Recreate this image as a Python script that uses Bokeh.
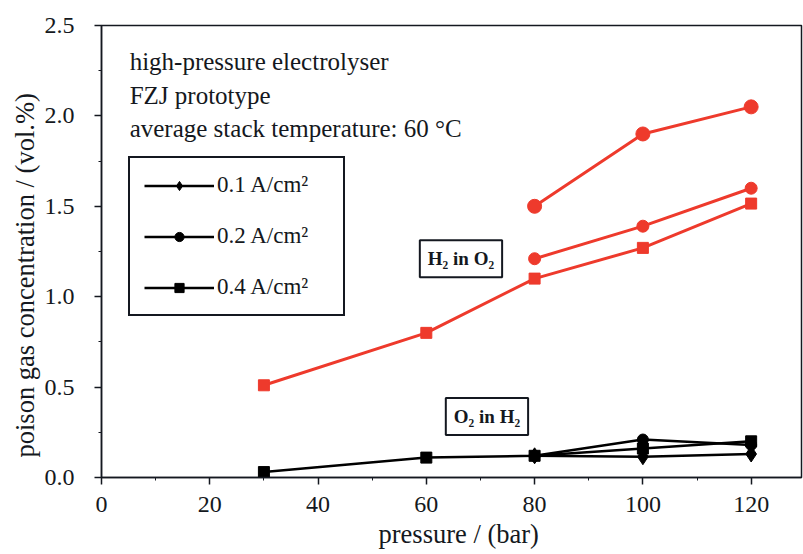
from bokeh.plotting import figure
from bokeh.models import Range1d, Legend, LegendItem, Label, FixedTicker, CustomJSTickFormatter, Title
from bokeh.embed import file_html
from bokeh.resources import INLINE

# H2 in O2 (red)
h2o2_p_01 = [80, 100, 120]
h2o2_v_01 = [1.50, 1.90, 2.05]
h2o2_p_02 = [80, 100, 120]
h2o2_v_02 = [1.21, 1.39, 1.60]
h2o2_p_04 = [30, 60, 80, 100, 120]
h2o2_v_04 = [0.51, 0.80, 1.10, 1.27, 1.515]

# O2 in H2 (black)
o2h2_p_01 = [80, 100, 120]
o2h2_v_01 = [0.12, 0.115, 0.13]
o2h2_p_02 = [80, 100, 120]
o2h2_v_02 = [0.12, 0.21, 0.18]
o2h2_p_04 = [30, 60, 80, 100, 120]
o2h2_v_04 = [0.03, 0.11, 0.12, 0.16, 0.20]

legend_labels = ["0.1 A/cm²", "0.2 A/cm²", "0.4 A/cm²"]
x_ticks = [0, 20, 40, 60, 80, 100, 120]
y_ticks = [0.0, 0.5, 1.0, 1.5, 2.0, 2.5]
x_title = "pressure / (bar)"
y_title = "poison gas concentration / (vol.%)"

FONT = "Liberation Serif"
RED = "#ee3a2c"
INK = "#141820"

p = figure(width=803, height=554, output_backend="svg", toolbar_location=None,
           x_range=Range1d(0, 129.3), y_range=Range1d(0, 2.5),
           min_border_left=101, min_border_right=2, min_border_top=25, min_border_bottom=77)
p.grid.visible = False
p.outline_line_color = INK
p.outline_line_width = 1.5
p.background_fill_color = "white"
p.border_fill_color = "white"

p.xaxis.ticker = FixedTicker(ticks=x_ticks, minor_ticks=[10, 30, 50, 70, 90, 110, 130])
p.yaxis.ticker = FixedTicker(ticks=y_ticks, minor_ticks=[0.25, 0.75, 1.25, 1.75, 2.25])
p.yaxis.formatter = CustomJSTickFormatter(code="return tick.toFixed(1);")
for ax in (p.xaxis, p.yaxis):
    ax.axis_line_color = INK
    ax.axis_line_width = 1.5
    ax.major_tick_line_color = INK
    ax.minor_tick_line_color = INK
    ax.major_tick_line_width = 1.5
    ax.major_tick_out = 7
    ax.major_tick_in = 0
    ax.minor_tick_out = 3
    ax.minor_tick_in = 0
    ax.major_label_text_font = FONT
    ax.major_label_text_font_size = "24px"
    ax.major_label_text_color = INK
p.xaxis.major_label_standoff = 12
p.yaxis.major_label_standoff = 20

xtitle = Title(text=x_title, align="left", offset=277, standoff=4,
               text_font=FONT, text_font_size="26.5px", text_font_style="normal",
               text_color=INK)
p.add_layout(xtitle, "below")
ytitle = Title(text=y_title, align="left", offset=20, standoff=4,
               text_font=FONT, text_font_size="26.5px", text_font_style="normal",
               text_color=INK)
p.add_layout(ytitle, "left")

# red series
p.line(h2o2_p_01, h2o2_v_01, line_color=RED, line_width=3)
p.scatter(h2o2_p_01, h2o2_v_01, marker="circle", size=14, color=RED)
p.line(h2o2_p_02, h2o2_v_02, line_color=RED, line_width=3)
p.scatter(h2o2_p_02, h2o2_v_02, marker="circle", size=12, color=RED)
p.line(h2o2_p_04, h2o2_v_04, line_color=RED, line_width=3)
p.scatter(h2o2_p_04, h2o2_v_04, marker="square", size=11, color=RED)

# black series
l1 = p.line(o2h2_p_01, o2h2_v_01, line_color="black", line_width=2.5)
m1 = p.scatter(o2h2_p_01, o2h2_v_01, marker="diamond", size=16, color="black")
l2 = p.line(o2h2_p_02, o2h2_v_02, line_color="black", line_width=2.5)
m2 = p.scatter(o2h2_p_02, o2h2_v_02, marker="circle", size=11, color="black")
l3 = p.line(o2h2_p_04, o2h2_v_04, line_color="black", line_width=2.5)
m3 = p.scatter(o2h2_p_04, o2h2_v_04, marker="square", size=11, color="black")

legend = Legend(items=[LegendItem(label=legend_labels[0], renderers=[l1, m1]),
                       LegendItem(label=legend_labels[1], renderers=[l2, m2]),
                       LegendItem(label=legend_labels[2], renderers=[l3, m3])],
                location=(27, 161))
legend.border_line_color = INK
legend.border_line_alpha = 1
legend.border_line_width = 2
legend.background_fill_color = "white"
legend.background_fill_alpha = 1
legend.label_text_font = FONT
legend.label_text_font_size = "23px"
legend.label_text_color = INK
legend.glyph_width = 70
legend.glyph_height = 23
legend.label_height = 23
legend.label_width = 112
legend.label_standoff = 3
legend.spacing = 25
legend.padding = 14
legend.margin = 0
p.add_layout(legend)

info = ["high-pressure electrolyser", "FZJ prototype", "average stack temperature: 60 °C"]
info_y = [2.30, 2.113, 1.93]
for t, yy in zip(info, info_y):
    p.add_layout(Label(x=5.2, y=yy, text=t, text_font=FONT, text_font_size="25px",
                       text_color=INK, text_baseline="alphabetic"))

for t, xx, yy in [("H₂ in O₂", 66.4, 1.21), ("O₂ in H₂", 71.2, 0.337)]:
    p.add_layout(Label(x=xx, y=yy, text=t, text_font=FONT, text_font_size="19px",
                       text_font_style="bold", text_color=INK, text_align="center",
                       text_baseline="middle", border_line_color=INK, border_line_width=2,
                       background_fill_color="white", padding=8))

open("out.html", "w").write(file_html(p, INLINE))
